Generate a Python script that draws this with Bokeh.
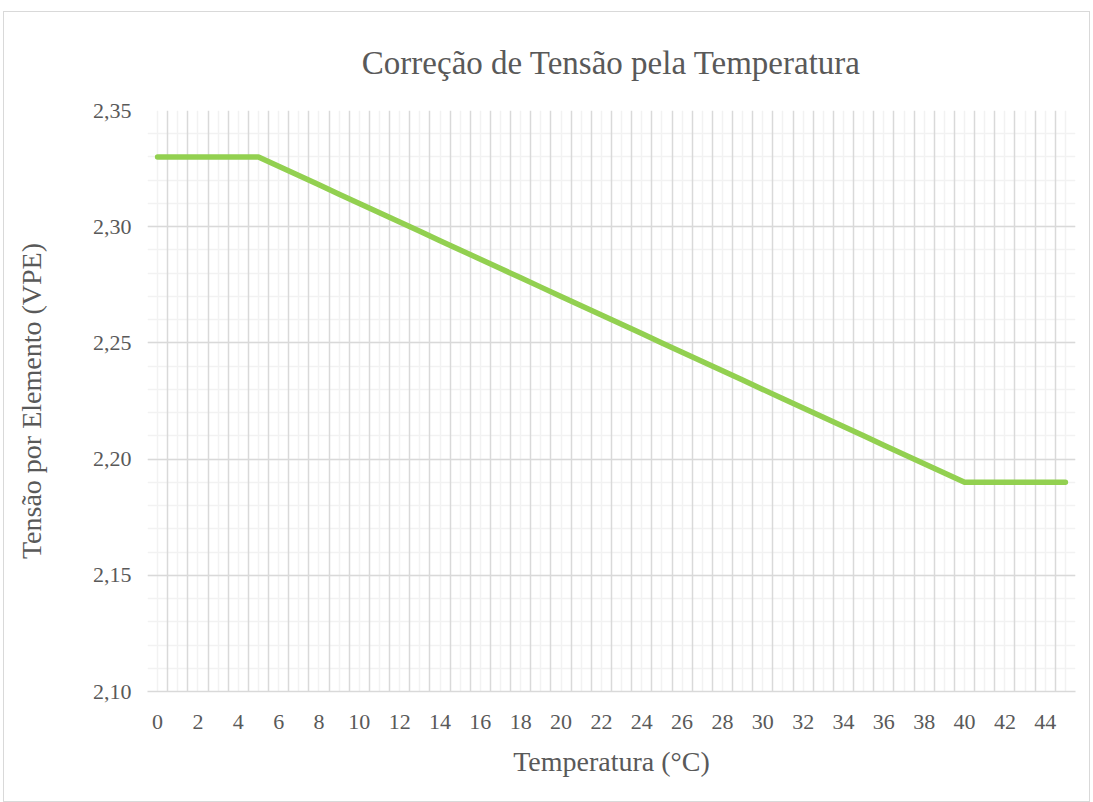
from bokeh.plotting import figure
from bokeh.models import FixedTicker, Grid, Range1d, CustomJSTickFormatter, SingleIntervalTicker
from bokeh.embed import file_html
from bokeh.resources import INLINE

temperatura = list(range(0, 46))
tensao = [2.33, 2.33, 2.33, 2.33, 2.33, 2.33,
          2.326, 2.322, 2.318, 2.314, 2.310,
          2.306, 2.302, 2.298, 2.294, 2.290,
          2.286, 2.282, 2.278, 2.274, 2.270,
          2.266, 2.262, 2.258, 2.254, 2.250,
          2.246, 2.242, 2.238, 2.234, 2.230,
          2.226, 2.222, 2.218, 2.214, 2.210,
          2.206, 2.202, 2.198, 2.194, 2.190,
          2.19, 2.19, 2.19, 2.19, 2.19]
x_tick_labels = list(range(0, 45, 2))
y_ticks = [2.10, 2.15, 2.20, 2.25, 2.30, 2.35]

FONT = "Liberation Serif"
TXT = "#595959"

p = figure(width=1087, height=791, output_backend="svg", toolbar_location=None,
           title="Correção de Tensão pela Temperatura",
           x_range=Range1d(-0.5, 45.5), y_range=Range1d(2.10, 2.35),
           min_border_left=143, min_border_right=16, min_border_bottom=112, min_border_top=98)
p.styles = {"border": "1px solid #d9d9d9", "margin-left": "3px", "margin-top": "11px"}
p.outline_line_color = None

p.title.align = "center"
p.title.text_font = FONT
p.title.text_font_size = "33px"
p.title.text_font_style = "normal"
p.title.text_color = TXT
p.title.standoff = 60

# x axis
p.xaxis.ticker = FixedTicker(ticks=x_tick_labels)
p.xaxis.major_tick_line_color = None
p.xaxis.minor_tick_line_color = None
p.xaxis.axis_line_color = "#d9d9d9"
p.xaxis.axis_line_width = 1.5
p.xaxis.major_label_text_font = FONT
p.xaxis.major_label_text_font_size = "22px"
p.xaxis.major_label_text_color = TXT
p.xaxis.major_label_standoff = 17
p.xaxis.axis_label = "Temperatura (°C)"
p.xaxis.axis_label_text_font = FONT
p.xaxis.axis_label_text_font_size = "28px"
p.xaxis.axis_label_text_font_style = "normal"
p.xaxis.axis_label_text_color = TXT
p.xaxis.axis_label_standoff = 14

# y axis
p.yaxis.ticker = FixedTicker(ticks=y_ticks)
p.yaxis.formatter = CustomJSTickFormatter(code="return tick.toFixed(2).replace('.', ',');")
p.yaxis.major_tick_line_color = None
p.yaxis.minor_tick_line_color = None
p.yaxis.axis_line_color = None
p.yaxis.major_label_text_font = FONT
p.yaxis.major_label_text_font_size = "22px"
p.yaxis.major_label_text_color = TXT
p.yaxis.major_label_standoff = 10
p.yaxis.axis_label = "Tensão por Elemento (VPE)"
p.yaxis.axis_label_text_font = FONT
p.yaxis.axis_label_text_font_size = "28px"
p.yaxis.axis_label_text_font_style = "normal"
p.yaxis.axis_label_text_color = TXT
p.yaxis.axis_label_standoff = 43

# grids
p.xgrid.visible = False
p.ygrid.visible = False
minor_x = Grid(dimension=0, ticker=FixedTicker(ticks=temperatura), grid_line_color="#f2f2f2", grid_line_width=1.5)
major_x = Grid(dimension=0, ticker=FixedTicker(ticks=[t - 0.5 for t in temperatura] + [45.5]),
               grid_line_color="#d9d9d9", grid_line_width=1.5)
minor_y = Grid(dimension=1, ticker=SingleIntervalTicker(interval=0.01), grid_line_color="#f2f2f2", grid_line_width=1.5)
major_y = Grid(dimension=1, ticker=FixedTicker(ticks=y_ticks), grid_line_color="#d9d9d9", grid_line_width=1.5)
p.add_layout(minor_x)
p.add_layout(minor_y)
p.add_layout(major_x)
p.add_layout(major_y)

p.line(temperatura, tensao, line_color="#92d050", line_width=5.5, line_cap="round", line_join="round")

open("out.html", "w").write(file_html(p, INLINE))
